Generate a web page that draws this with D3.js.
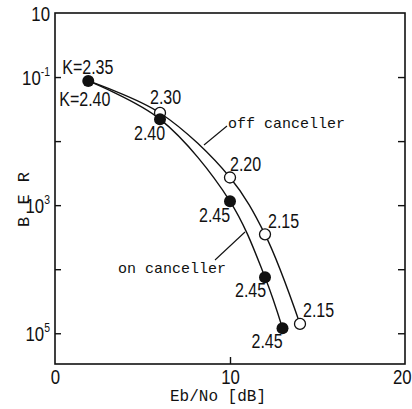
<!DOCTYPE html>
<html>
<head>
<meta charset="utf-8">
<script src="https://cdn.jsdelivr.net/npm/d3@7"></script>
<style>
	body { margin: 0; background: #fff; }
	svg { display: block; }
</style>
</head>
<body>
<div id="viz"></div>
<script>
// data
const onX = [1.9, 6, 10, 12, 13];
const onBER = [0.087, 0.022, 1.15e-3, 7.5e-5, 1.2e-5];
const onK = ["K=2.40", "2.40", "2.45", "2.45", "2.45"];

const offX = [1.9, 6, 10, 12, 14];
const offBER = [0.087, 0.0275, 2.7e-3, 3.5e-4, 1.4e-5];
const offK = ["K=2.35", "2.30", "2.20", "2.15", "2.15"];

const xTicks = [0, 10, 20];
const yTicks = [1, 1e-1, 1e-3, 1e-5];
const yTickLabels = [["10", ""], ["10", "-1"], ["10", "3"], ["10", "5"]];
const yMinorTicks = [1e-1, 1e-2, 1e-3, 1e-4, 1e-5];

// label offsets from each point (layout only)
const onOffsets = [[-29, 25], [-26, 21], [-31, 21], [-30, 20], [-31, 20]];
const offOffsets = [[-26, -7], [-10, -9], [0, -7], [3, -6], [3, -7]];

var margin = { top: 13, right: 7, bottom: 45, left: 55 },
	W = 412,
	H = 409,
	width = W - margin.left - margin.right,
	height = H - margin.top - margin.bottom;

var svg = d3
	.select("#viz")
	.append("svg")
	.attr("width", W)
	.attr("height", H);

var g = svg
	.append("g")
	.attr("transform", `translate(${margin.left},${margin.top})`);

const x = d3.scaleLinear().domain([0, 20]).range([0, width]);
const y = d3.scaleLog().domain([Math.pow(10, -5.48), 1]).range([height, 0]);

// no narrow font installed, so squeeze Liberation Sans horizontally
const numFont = "'Liberation Sans', Arial, sans-serif";
const squeeze = 0.8;
const txtFont = "'Liberation Mono', 'DejaVu Sans Mono', monospace";

// frame
g.append("rect")
	.attr("width", width)
	.attr("height", height)
	.attr("fill", "none")
	.attr("stroke", "#111")
	.attr("stroke-width", 1.6);

// left axis, ticks pointing in
var yl = g
	.append("g")
	.call(d3.axisLeft(y).tickValues(yMinorTicks).tickSize(-6).tickFormat(""));
yl.select(".domain").remove();
yl.selectAll("line").attr("stroke", "#111").attr("stroke-width", 1.4);

// right axis, ticks pointing in
var yr = g
	.append("g")
	.attr("transform", `translate(${width},0)`)
	.call(d3.axisRight(y).tickValues(yMinorTicks).tickSize(-7).tickFormat(""));
yr.select(".domain").remove();
yr.selectAll("line").attr("stroke", "#111").attr("stroke-width", 1.4);

// y tick labels with superscripts
g.selectAll(".ylab")
	.data(yTicks)
	.join("text")
	.attr("class", "ylab")
	.attr("transform", (d) => `translate(-5,${y(d) + 8}) scale(${squeeze},1)`)
	.attr("text-anchor", "end")
	.attr("font-family", numFont)
	.attr("font-size", 21)
	.attr("fill", "#111")
	.each(function (d, i) {
		var t = d3.select(this);
		var lab = yTickLabels[i];
		t.append("tspan").text(lab[0]);
		if (lab[1]) {
			t.append("tspan")
				.attr("dy", -9)
				.attr("font-size", 13)
				.text(lab[1]);
		}
	});

// bottom axis
var xa = g
	.append("g")
	.attr("transform", `translate(0,${height})`)
	.call(d3.axisBottom(x).tickValues(xTicks).tickSize(-7).tickPadding(5));
xa.select(".domain").remove();
xa.selectAll("line")
	.attr("stroke", "#111")
	.attr("stroke-width", 1.4)
	.attr("opacity", (d) => (d === 10 ? 1 : 0));
xa.selectAll("text")
	.attr("font-family", numFont)
	.attr("font-size", 21)
	.attr("fill", "#111")
	.attr("dx", (d) => (d === 20 ? -4 : 0))
	.attr("transform", `scale(${squeeze},1)`);

// axis titles
g.append("text")
	.attr("x", x(10) - 12)
	.attr("y", height + 37)
	.attr("text-anchor", "middle")
	.attr("font-family", txtFont)
	.attr("font-size", 16)
	.attr("fill", "#111")
	.text("Eb/No [dB]");

svg.append("text")
	.attr("transform", "translate(29,199) rotate(-90)")
	.attr("text-anchor", "middle")
	.attr("font-family", txtFont)
	.attr("font-size", 17)
	.attr("letter-spacing", 1)
	.attr("fill", "#111")
	.text("B E R");

// curves
const onData = onX.map((v, i) => ({ x: v, ber: onBER[i], k: onK[i] }));
const offData = offX.map((v, i) => ({ x: v, ber: offBER[i], k: offK[i] }));

var line = d3
	.line()
	.x((d) => x(d.x))
	.y((d) => y(d.ber))
	.curve(d3.curveCatmullRom.alpha(0.5));

[offData, onData].forEach((data) => {
	g.append("path")
		.datum(data)
		.attr("d", line)
		.attr("fill", "none")
		.attr("stroke", "#111")
		.attr("stroke-width", 1.4);
});

// open circles (off canceller), shared start point is drawn filled
g.selectAll(".off")
	.data(offData.slice(1))
	.join("circle")
	.attr("class", "off")
	.attr("cx", (d) => x(d.x))
	.attr("cy", (d) => y(d.ber))
	.attr("r", 5.5)
	.attr("fill", "#fff")
	.attr("stroke", "#111")
	.attr("stroke-width", 1.3);

g.selectAll(".on")
	.data(onData)
	.join("circle")
	.attr("class", "on")
	.attr("cx", (d) => x(d.x))
	.attr("cy", (d) => y(d.ber))
	.attr("r", 6)
	.attr("fill", "#111");

// K value labels
function kLabels(data, offsets) {
	g.append("g")
		.selectAll("text")
		.data(data)
		.join("text")
		.attr(
			"transform",
			(d, i) =>
				`translate(${x(d.x) + offsets[i][0]},${y(d.ber) + offsets[i][1]}) scale(${squeeze},1)`
		)
		.attr("font-family", numFont)
		.attr("font-size", 20)
		.attr("fill", "#111")
		.text((d) => d.k);
}
kLabels(onData, onOffsets);
kLabels(offData, offOffsets);

// series names with leader lines
g.append("text")
	.attr("x", 228 - margin.left)
	.attr("y", 128 - margin.top)
	.attr("font-family", txtFont)
	.attr("font-size", 15)
	.attr("fill", "#111")
	.text("off canceller");

g.append("line")
	.attr("x1", 227 - margin.left)
	.attr("y1", 126 - margin.top)
	.attr("x2", 204 - margin.left)
	.attr("y2", 145 - margin.top)
	.attr("stroke", "#111")
	.attr("stroke-width", 1.1);

g.append("text")
	.attr("x", 226 - margin.left)
	.attr("y", 273 - margin.top)
	.attr("text-anchor", "end")
	.attr("font-family", txtFont)
	.attr("font-size", 15)
	.attr("fill", "#111")
	.text("on canceller");

g.append("line")
	.attr("x1", 215 - margin.left)
	.attr("y1", 260 - margin.top)
	.attr("x2", 245 - margin.left)
	.attr("y2", 232 - margin.top)
	.attr("stroke", "#111")
	.attr("stroke-width", 1.1);
</script>
</body>
</html>
